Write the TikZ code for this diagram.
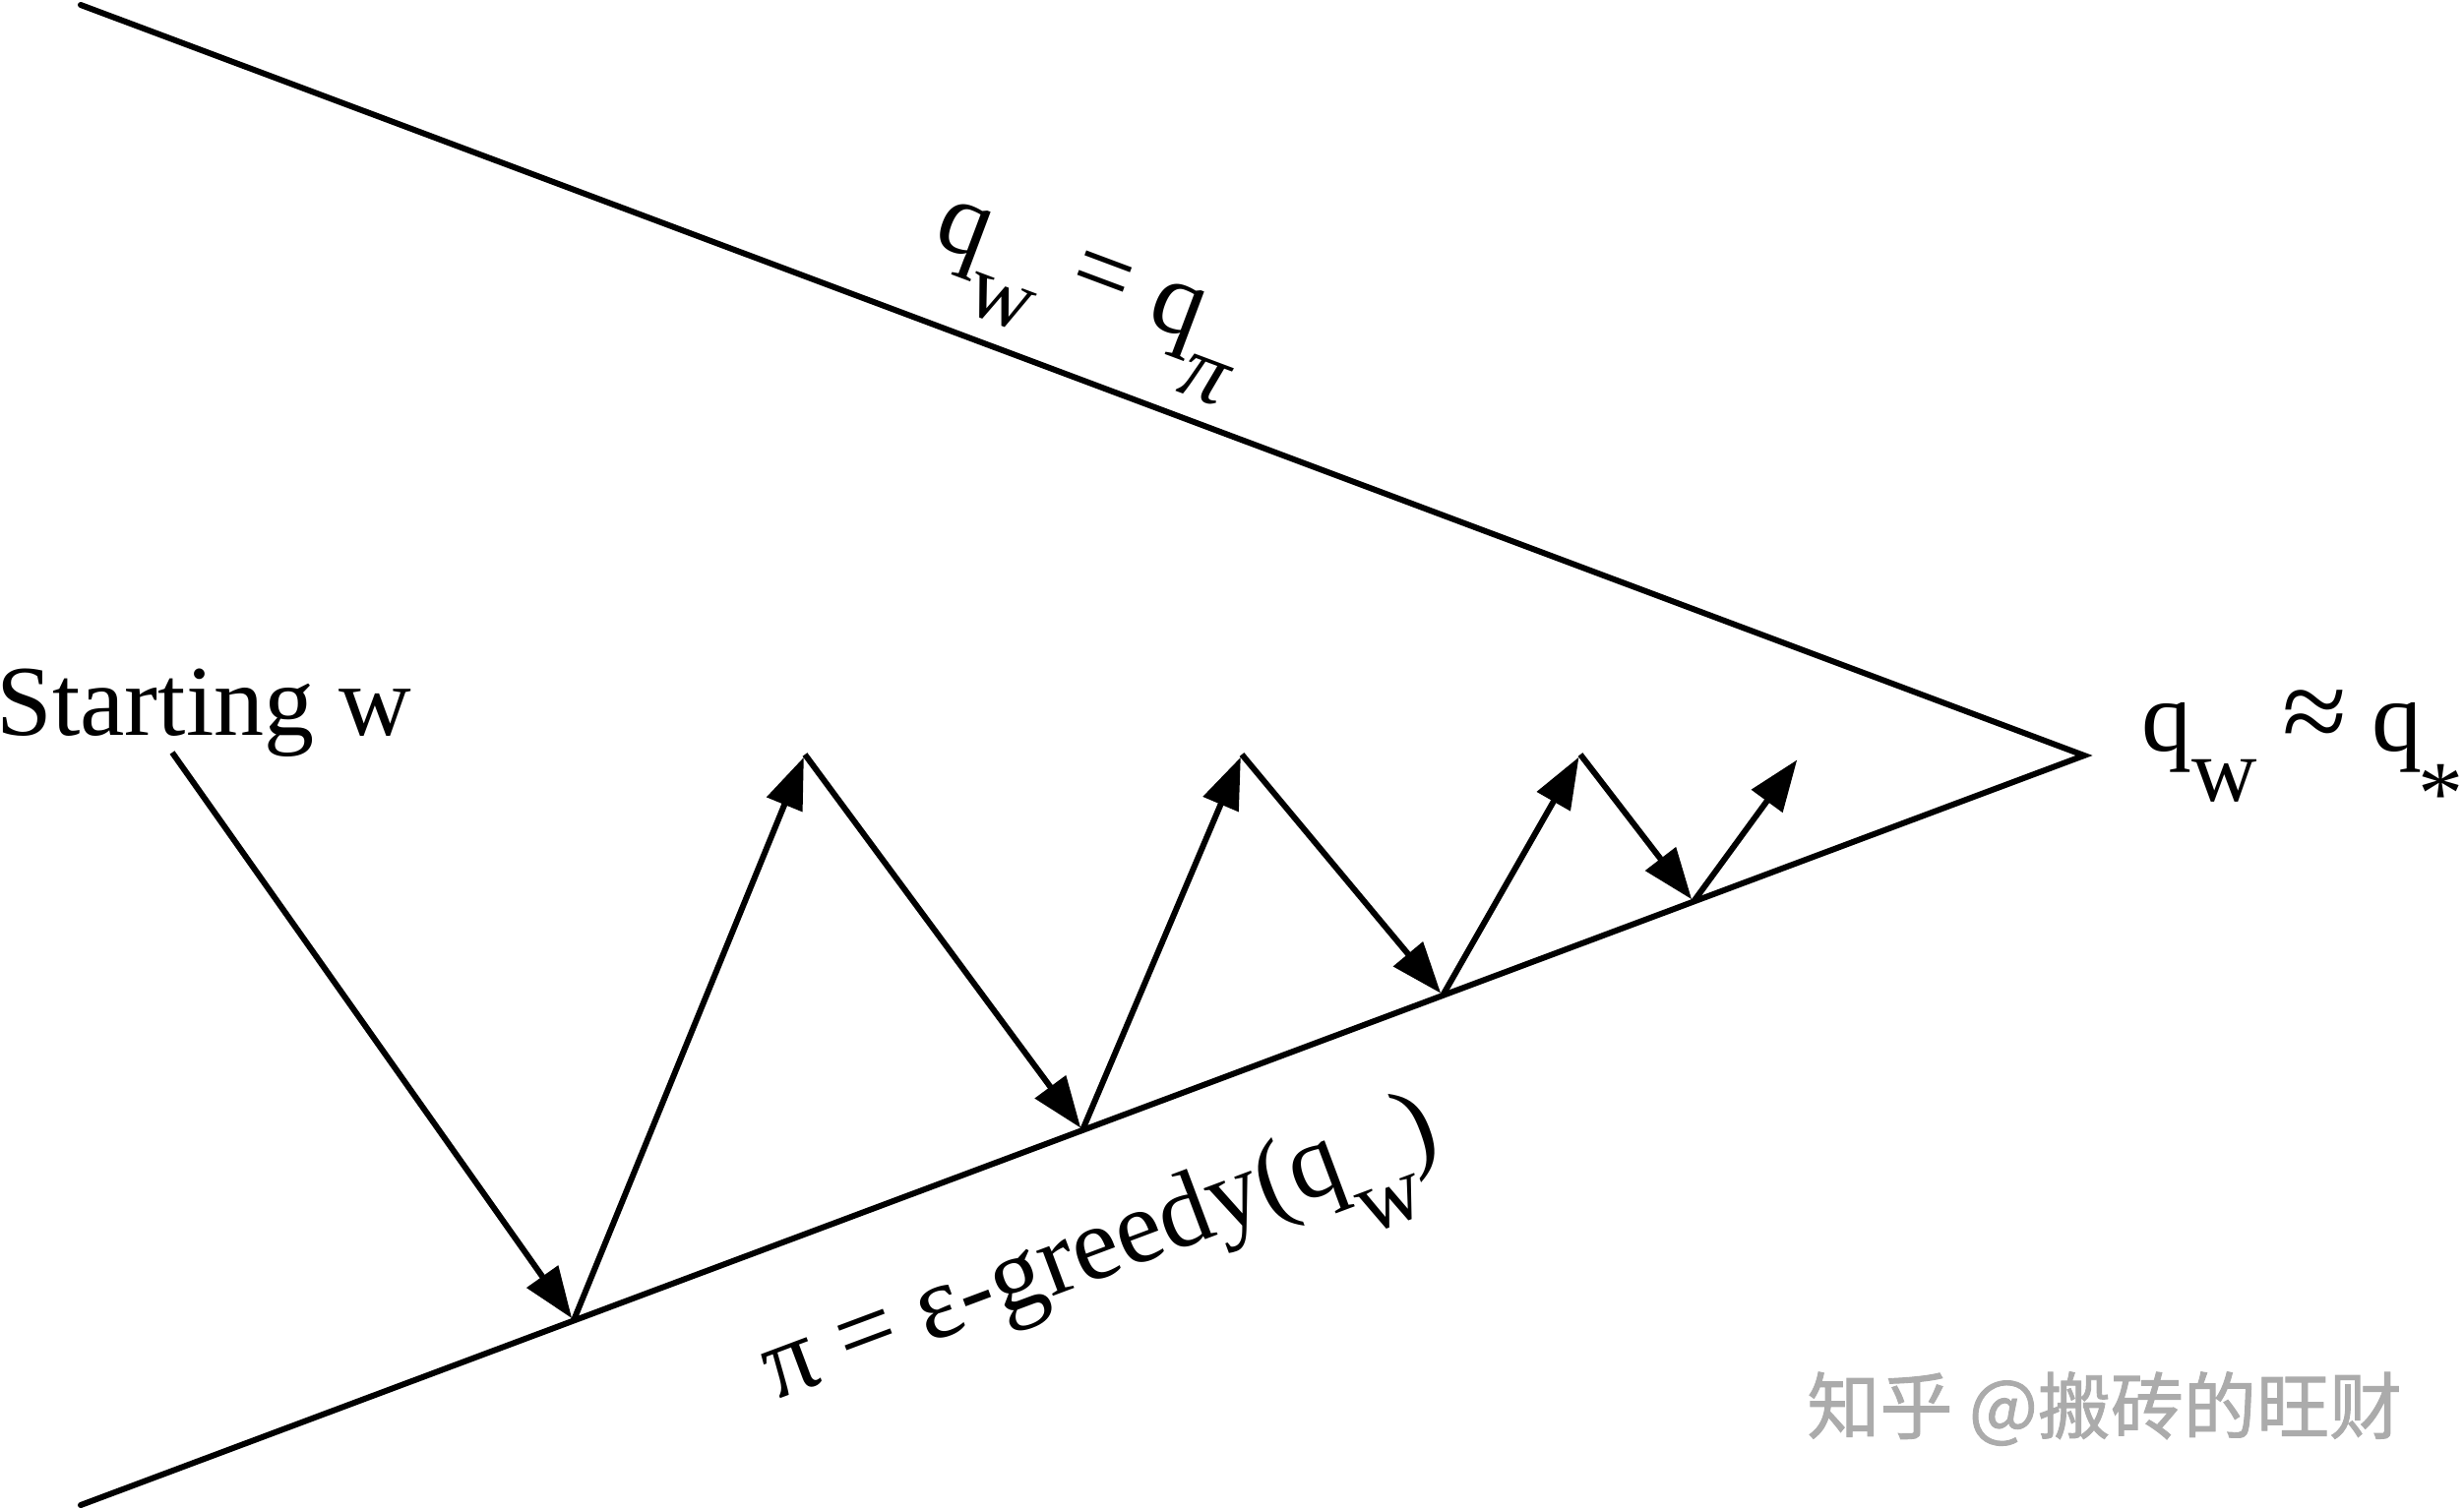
\documentclass[tikz,border=0pt]{standalone}
\usepackage{fontspec}
\setmainfont{Liberation Serif}
\newfontfamily\cjkwm[FakeBold=1.2]{Noto Sans CJK SC}
\usetikzlibrary{arrows.meta,calc}
\newcommand\lowsub[1]{\raisebox{-0.5em}{\fontsize{46}{46}\selectfont #1}}
\begin{document}
\begin{tikzpicture}[x=0.5pt,y=-0.5pt,
  edge/.style={line width=3pt, line cap=round, line join=miter},
  move/.style={line width=3pt, -{Triangle[length=26pt,width=19pt]}, shorten >=1.5pt},
  lbl/.style={font=\fontsize{51}{60}\selectfont, inner sep=0pt},
  slbl/.style={font=\fontsize{53}{60}\selectfont, inner sep=0pt, sloped},
]
\useasboundingbox (0,0) rectangle (2504,1535);
\coordinate (A0) at (82,5);
\coordinate (B0) at (82,1530);
\coordinate (Apex) at (2118,768);
\coordinate (S) at (175,765);
\coordinate (P1) at ($(B0)!0.246!(Apex)$);
\coordinate (T1) at (818,767);
\coordinate (P2) at ($(B0)!0.5!(Apex)$);
\coordinate (T2) at (1262,767);
\coordinate (P3) at ($(B0)!0.6798!(Apex)$);
\coordinate (T3) at (1606,767);
\coordinate (P4) at ($(B0)!0.805!(Apex)$);
\coordinate (T4) at (1828,770);
\draw[edge] (A0) -- (Apex) -- (B0);
\draw[move] (S) -- (P1);
\draw[move] (P1) -- (T1);
\draw[move] (T1) -- (P2);
\draw[move] (P2) -- (T2);
\draw[move] (T2) -- (P3);
\draw[move] (P3) -- (T3);
\draw[move] (T3) -- (P4);
\draw[move] (P4) -- (T4);
\path (A0) -- node[slbl, pos=0.488, anchor=south, inner ysep=11pt] (lq) {q\lowsub{w} = q\lowsub{\textit{π}}} (Apex);
\path (B0) -- node[slbl, pos=0.488, anchor=north, inner ysep=37pt] (lp) {π = ε-greedy(q\lowsub{w})} (Apex);
\node[lbl, anchor=base west] (start) at (-4,747) {Starting w};
\node[lbl, anchor=base west] (conv) at (2176,763) {q\lowsub{w} {\fontsize{60}{60}\selectfont ≈} q\kern-0.04em\lowsub{\raisebox{-0.25em}{*}}};
\node[font=\cjkwm\fontsize{37}{40}\selectfont, text=black!33, anchor=west, inner sep=0pt] (wm) at (1836,1432) {知乎 @搬砖的旺财};
\end{tikzpicture}
\end{document}
